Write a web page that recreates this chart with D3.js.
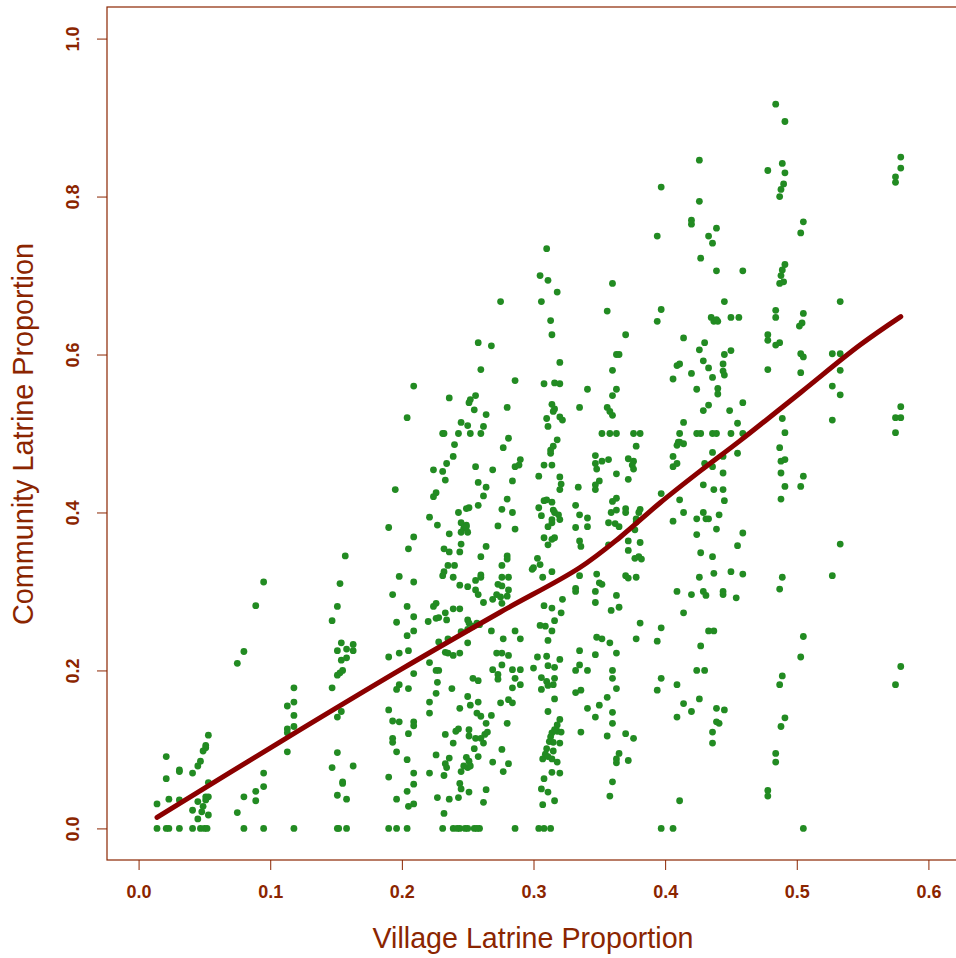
<!DOCTYPE html>
<html>
<head>
<meta charset="utf-8">
<script src="https://cdn.jsdelivr.net/npm/d3@7"></script>
<style>
  body { margin: 0; background: #fff; }
  svg { display: block; }
  .tick text { font-family: 'Liberation Sans', Arial, sans-serif; font-weight: bold; font-size: 19px; fill: #8b2500; }
  .tick line { stroke: #8b2500; }
  .title { font-family: 'Liberation Sans', Arial, sans-serif; font-size: 30px; fill: #8b2500; }
</style>
</head>
<body>
<div id="chart"></div>
<script>
const W = 956, H = 958

// tick labels
const xTicks = [0, 0.1, 0.2, 0.3, 0.4, 0.5, 0.6]
const yTicks = [0, 0.2, 0.4, 0.6, 0.8, 1.0]

// lowess smooth
const smoothX = [0.014, 0.107, 0.199, 0.275, 0.335, 0.366, 0.396, 0.427, 0.457, 0.503, 0.548, 0.579]
const smoothY = [0.014, 0.109, 0.201, 0.274, 0.330, 0.369, 0.412, 0.453, 0.491, 0.552, 0.612, 0.648]

// households: [village latrine proportion, community latrine proportion]
const lowVillages = [
  [0.014,0],[0.021,0],[0.023,0],[0.031,0],[0.041,0],[0.047,0],[0.050,0],[0.052,0],[0.080,0],[0.095,0],[0.118,0],[0.151,0],[0.152,0],[0.158,0],
  [0.014,0.031],[0.021,0.091],[0.021,0.063],[0.023,0.037],[0.031,0.074],[0.031,0.072],[0.031,0.036],
  [0.041,0.070],[0.041,0.023],[0.045,0.034],[0.045,0.012],[0.045,0.079],[0.047,0.085],[0.049,0.098],[0.051,0.102],[0.051,0.105],[0.053,0.118],[0.053,0.058],
  [0.048,0.021],[0.049,0.028],[0.051,0.040],[0.053,0.040],[0.051,0.036],[0.053,0.017],
  [0.075,0.209],[0.080,0.224],[0.075,0.020],[0.080,0.040],[0.089,0.282],[0.095,0.312],[0.089,0.047],[0.089,0.035],[0.095,0.070],[0.095,0.053],
  [0.113,0.155],[0.118,0.178],[0.118,0.160],[0.118,0.143],[0.118,0.129],[0.113,0.126],[0.113,0.121],[0.113,0.097],
  [0.147,0.263],[0.151,0.281],[0.153,0.310],[0.154,0.235],[0.158,0.227],[0.163,0.233],[0.151,0.225],[0.158,0.216],[0.163,0.225],[0.154,0.213],[0.155,0.200],[0.153,0.197],[0.151,0.194],
  [0.147,0.178],[0.154,0.148],[0.151,0.141],[0.151,0.096],[0.147,0.077],[0.163,0.079],[0.155,0.059],[0.155,0.057],[0.151,0.042],[0.158,0.037],[0.157,0.345]
]

const midVillages = [
  [0.311,0.694],[0.318,0.679],[0.275,0.667],[0.306,0.667],[0.313,0.643],[0.314,0.625],[0.258,0.615],[0.268,0.611],[0.320,0.590],[0.260,0.581],[0.286,0.567],[0.308,0.563],[0.316,0.564],[0.320,0.563],[0.209,0.560],[0.236,0.545],[0.256,0.548],[0.252,0.543],[0.251,0.539],[0.280,0.533],[0.255,0.530],[0.314,0.537],[0.316,0.531],[0.315,0.528],[0.310,0.519],[0.311,0.509],[0.320,0.521],[0.322,0.517],[0.335,0.533],[0.204,0.520],[0.264,0.524],[0.245,0.514],[0.250,0.510],[0.262,0.509],
  [0.231,0.500],[0.232,0.500],[0.243,0.500],[0.252,0.500],[0.260,0.500],
  [0.240,0.486],[0.239,0.471],[0.281,0.494],[0.277,0.482],[0.318,0.492],[0.315,0.484],[0.313,0.479],[0.313,0.475],
  [0.234,0.462],[0.224,0.454],[0.231,0.452],[0.233,0.441],[0.256,0.458],[0.269,0.454],[0.290,0.467],[0.286,0.458],[0.289,0.460],[0.308,0.460],[0.314,0.460],[0.304,0.446],[0.320,0.445],[0.321,0.436],[0.320,0.429],[0.334,0.432],[0.258,0.438],[0.284,0.440],[0.264,0.432],[0.195,0.429],[0.226,0.425],[0.224,0.420],[0.262,0.421],[0.280,0.417],[0.258,0.409],
  [0.308,0.415],[0.310,0.416],[0.304,0.406],[0.314,0.413],[0.315,0.403],[0.306,0.396],[0.319,0.397],[0.320,0.391],[0.314,0.391],[0.316,0.400],[0.314,0.387],[0.311,0.382],
  [0.332,0.409],[0.332,0.381],[0.335,0.364],[0.276,0.404],[0.284,0.400],[0.243,0.400],[0.249,0.405],[0.251,0.406],[0.221,0.394],[0.227,0.384],
  [0.245,0.387],[0.249,0.384],[0.247,0.380],[0.245,0.375],[0.250,0.375],[0.249,0.382],[0.273,0.383],[0.286,0.379],[0.190,0.381],[0.209,0.369],[0.236,0.373],[0.205,0.354],
  [0.308,0.368],[0.311,0.359],[0.314,0.366],[0.316,0.368],[0.245,0.360],[0.244,0.350],[0.232,0.354],[0.236,0.350],[0.264,0.357],[0.260,0.344],[0.280,0.345],[0.280,0.341],
  [0.303,0.342],[0.305,0.334],[0.300,0.330],[0.299,0.328],[0.314,0.325],[0.235,0.333],[0.240,0.333],[0.232,0.325],[0.231,0.320],[0.276,0.333],[0.198,0.319],[0.239,0.318],[0.260,0.318],[0.276,0.318],[0.281,0.318],[0.307,0.318],
  [0.310,0.734],[0.305,0.700],
  [0.209,0.312],[0.193,0.296],[0.204,0.281],[0.196,0.261],[0.209,0.268],[0.204,0.244],[0.209,0.250],[0.190,0.217],[0.198,0.222],[0.205,0.225],[0.209,0.196],[0.196,0.176],[0.198,0.182],[0.205,0.177],[0.190,0.150],[0.193,0.136],[0.198,0.135],[0.209,0.135],[0.209,0.130],[0.205,0.120],[0.193,0.114],[0.193,0.109],[0.196,0.097],[0.204,0.087],[0.209,0.070],[0.190,0.065],[0.209,0.056],[0.204,0.047],[0.196,0.037],[0.205,0.028],[0.209,0.031],
  [0.190,0],[0.196,0],[0.204,0],[0.231,0],[0.239,0],[0.244,0],[0.248,0],[0.255,0],[0.259,0],[0.286,0],[0.304,0],[0.308,0],[0.313,0],[0.242,0],[0.250,0],[0.257,0],
  [0.224,0.281],[0.226,0.285],[0.220,0.262],[0.226,0.266],[0.228,0.267],[0.233,0.273],[0.239,0.278],[0.244,0.278],[0.234,0.264],[0.228,0.236],[0.235,0.240],[0.233,0.223],[0.235,0.222],[0.239,0.219],[0.244,0.222],[0.221,0.210],[0.226,0.200],[0.228,0.200],[0.227,0.185],[0.226,0.171],[0.221,0.160],[0.221,0.146],[0.238,0.177],
  [0.245,0.249],[0.250,0.252],[0.251,0.260],[0.250,0.264],[0.256,0.314],[0.260,0.321],[0.256,0.302],[0.258,0.296],[0.262,0.286],[0.250,0.306],[0.244,0.308],[0.250,0.235],[0.257,0.260],[0.259,0.258],[0.254,0.256],
  [0.269,0.290],[0.272,0.296],[0.276,0.285],[0.275,0.293],[0.280,0.294],[0.281,0.302],[0.276,0.307],[0.273,0.309],
  [0.268,0.250],[0.277,0.240],[0.286,0.250],[0.290,0.240],[0.272,0.222],[0.276,0.222],[0.281,0.219],[0.276,0.207],[0.269,0.201],[0.273,0.195],[0.273,0.189],[0.284,0.201],[0.290,0.201],[0.286,0.190],[0.290,0.182],[0.284,0.178],[0.254,0.190],[0.258,0.187],
  [0.250,0.167],[0.252,0.156],[0.244,0.152],[0.258,0.160],[0.260,0.142],[0.257,0.146],[0.264,0.133],[0.268,0.143],[0.275,0.159],[0.281,0.163],[0.284,0.159],[0.280,0.133],
  [0.233,0.119],[0.239,0.108],[0.241,0.123],[0.243,0.126],[0.251,0.125],[0.251,0.117],[0.256,0.114],[0.262,0.108],[0.263,0.119],[0.265,0.122],[0.260,0.114],[0.255,0.101],[0.258,0.091],
  [0.226,0.093],[0.233,0.082],[0.236,0.089],[0.234,0.077],[0.232,0.067],[0.221,0.070],
  [0.249,0.090],[0.251,0.085],[0.247,0.079],[0.250,0.077],[0.245,0.072],[0.252,0.079],
  [0.276,0.100],[0.281,0.082],[0.269,0.084],[0.277,0.072],
  [0.244,0.057],[0.245,0.050],[0.251,0.046],[0.264,0.049],[0.262,0.033],
  [0.227,0.039],[0.236,0.037],[0.243,0.039],[0.232,0.019],
  [0.308,0.282],[0.314,0.279],[0.322,0.290],[0.321,0.273],[0.316,0.263],[0.305,0.257],[0.309,0.256],[0.314,0.250],[0.311,0.238],
  [0.303,0.217],[0.310,0.218],[0.320,0.214],[0.311,0.206],[0.316,0.204],[0.300,0.203],[0.306,0.191],[0.310,0.186],[0.316,0.190],[0.306,0.176],[0.315,0.182],[0.311,0.181],[0.316,0.164],
  [0.311,0.148],[0.320,0.138],[0.318,0.131],[0.316,0.125],[0.314,0.121],[0.313,0.116],[0.318,0.123],[0.321,0.122],[0.312,0.110],[0.315,0.109],[0.320,0.108],
  [0.310,0.101],[0.315,0.098],[0.309,0.094],[0.307,0.088],[0.311,0.091],[0.314,0.088],[0.318,0.084],[0.320,0.070],[0.314,0.071],[0.308,0.063],
  [0.306,0.050],[0.311,0.046],[0.316,0.035],[0.307,0.030]
]

const highVillages = [
  [0.394,0.642],[0.370,0.625],[0.414,0.621],[0.430,0.615],[0.426,0.606],[0.450,0.605],[0.445,0.600],[0.363,0.600],[0.365,0.600],
  [0.429,0.592],[0.433,0.583],[0.444,0.588],[0.444,0.579],[0.445,0.574],[0.436,0.571],[0.409,0.586],[0.411,0.588],[0.420,0.576],[0.360,0.580],[0.406,0.569],
  [0.341,0.556],[0.363,0.556],[0.360,0.548],[0.424,0.556],[0.440,0.557],[0.440,0.550],[0.459,0.539],[0.449,0.529],[0.433,0.536],[0.429,0.529],
  [0.356,0.533],[0.358,0.528],[0.360,0.523],[0.414,0.514],[0.455,0.513],
  [0.352,0.500],[0.358,0.500],[0.363,0.500],[0.376,0.500],[0.381,0.500],[0.411,0.500],[0.424,0.500],[0.427,0.500],[0.436,0.500],[0.439,0.500],[0.450,0.500],[0.459,0.500],
  [0.378,0.484],[0.409,0.485],[0.411,0.489],[0.414,0.487],[0.410,0.489],[0.436,0.476],[0.455,0.475],
  [0.347,0.472],[0.352,0.465],[0.357,0.467],[0.347,0.462],[0.348,0.455],[0.372,0.468],[0.376,0.465],[0.375,0.460],[0.376,0.455],
  [0.406,0.471],[0.406,0.458],[0.409,0.462],[0.430,0.462],[0.436,0.458],[0.444,0.471],[0.444,0.450],
  [0.363,0.449],[0.372,0.442],[0.350,0.440],[0.347,0.435],[0.347,0.429],
  [0.429,0.435],[0.437,0.429],[0.444,0.429],[0.445,0.415],[0.397,0.424],[0.411,0.416],
  [0.363,0.418],[0.360,0.414],[0.363,0.403],[0.359,0.400],[0.370,0.405],[0.370,0.400],[0.381,0.404],[0.380,0.400],[0.378,0.392],[0.378,0.388],
  [0.335,0.397],[0.341,0.393],[0.357,0.387],[0.362,0.386],[0.365,0.382],[0.341,0.382],
  [0.406,0.389],[0.414,0.400],[0.424,0.392],[0.429,0.400],[0.431,0.392],[0.433,0.392],[0.441,0.397],[0.439,0.379],[0.377,0.378],
  [0.336,0.357],[0.357,0.359],[0.372,0.364],[0.372,0.352],[0.381,0.362],[0.377,0.342],[0.380,0.344],[0.382,0.341],
  [0.424,0.372],[0.427,0.349],[0.436,0.344],[0.459,0.374],[0.455,0.358],
  [0.335,0.320],[0.348,0.322],[0.350,0.311],[0.352,0.309],[0.370,0.320],[0.372,0.317],[0.378,0.318],[0.426,0.318],[0.437,0.323],[0.450,0.325],[0.459,0.322],
  [0.332,0.304],[0.332,0.300],[0.347,0.300],[0.363,0.295],[0.409,0.300],[0.420,0.296],[0.429,0.300],[0.431,0.295],[0.444,0.300],[0.444,0.296],[0.454,0.292],
  [0.347,0.286],[0.359,0.276],[0.365,0.280],[0.414,0.273],[0.381,0.260],[0.397,0.254],[0.433,0.250],[0.437,0.250],
  [0.348,0.242],[0.352,0.240],[0.358,0.235],[0.378,0.240],[0.394,0.237],[0.427,0.231],[0.335,0.225],[0.347,0.220],[0.363,0.222],
  [0.335,0.207],[0.332,0.200],[0.341,0.200],[0.360,0.200],[0.360,0.190],[0.424,0.200],[0.430,0.200],[0.397,0.190],[0.409,0.182],[0.394,0.175],[0.332,0.172],[0.336,0.175],[0.363,0.177],[0.356,0.166],[0.426,0.164],[0.414,0.158],[0.420,0.148],[0.439,0.152],[0.445,0.150],[0.341,0.152],[0.350,0.156],
  [0.347,0.141],[0.360,0.147],[0.360,0.133],[0.409,0.141],[0.439,0.135],[0.441,0.133],[0.336,0.122],[0.356,0.117],[0.370,0.120],[0.376,0.114],[0.436,0.122],[0.436,0.108],
  [0.365,0.095],[0.363,0.088],[0.363,0.083],[0.372,0.086],[0.360,0.059],[0.358,0.041],[0.411,0.035],[0.397,0],[0.406,0],
  [0.426,0.846],[0.397,0.812],[0.426,0.794],[0.420,0.770],[0.420,0.765],[0.439,0.760],[0.394,0.750],[0.433,0.750],[0.436,0.741],[0.427,0.722],[0.439,0.706],[0.459,0.706],[0.360,0.690],[0.356,0.655],[0.397,0.657],[0.445,0.667],[0.435,0.647],[0.437,0.642],[0.440,0.642],[0.439,0.644],[0.450,0.647],[0.456,0.647]
]

const topVillages = [
  [0.484,0.917],[0.491,0.895],[0.489,0.842],[0.478,0.833],[0.491,0.830],[0.490,0.816],[0.488,0.809],[0.487,0.800],
  [0.579,0.850],[0.579,0.836],[0.575,0.825],[0.575,0.818],[0.505,0.768],[0.503,0.754],
  [0.491,0.714],[0.489,0.707],[0.488,0.700],[0.487,0.690],[0.490,0.692],[0.533,0.667],[0.484,0.656],[0.484,0.647],[0.505,0.652],[0.504,0.640],[0.502,0.636],
  [0.478,0.625],[0.478,0.618],[0.484,0.612],[0.487,0.615],[0.503,0.601],[0.505,0.597],[0.527,0.601],[0.533,0.601],[0.533,0.580],[0.478,0.581],[0.503,0.577],
  [0.527,0.560],[0.533,0.549],[0.527,0.517],[0.579,0.534],[0.575,0.520],[0.579,0.520],[0.575,0.501],[0.489,0.519],[0.491,0.501],[0.487,0.482],[0.488,0.465],[0.491,0.467],[0.488,0.450],[0.491,0.433],[0.488,0.417],[0.505,0.446],[0.503,0.433],[0.533,0.360],[0.527,0.320],[0.489,0.318],[0.487,0.303],[0.505,0.243],[0.503,0.217],[0.579,0.205],[0.575,0.182],[0.489,0.193],[0.487,0.182],[0.491,0.140],[0.488,0.129],[0.484,0.095],[0.484,0.084],[0.478,0.048],[0.478,0.041],[0.505,0]
]

const households = lowVillages.concat(midVillages, highVillages, topVillages)

const ink = '#8b2500'

const x = d3.scaleLinear().domain([-0.024, 0.624]).range([107, 960])
const y = d3.scaleLinear().domain([-0.04, 1.04]).range([860, 7])

const svg = d3.select('#chart').append('svg')
  .attr('width', W)
  .attr('height', H)

// plot box (right edge falls just off the canvas)
svg.append('rect')
  .attr('x', x.range()[0]).attr('y', y.range()[1])
  .attr('width', x.range()[1] - x.range()[0])
  .attr('height', y.range()[0] - y.range()[1])
  .attr('fill', 'none')
  .attr('stroke', ink)
  .attr('stroke-width', 1.2)

const xAxis = svg.append('g')
  .attr('transform', `translate(0,${y.range()[0]})`)
  .call(d3.axisBottom(x).tickValues(xTicks).tickFormat(d3.format('.1f')).tickSize(10).tickPadding(15))
xAxis.select('.domain').remove()
xAxis.selectAll('.tick text')
  .attr('textLength', 25)
  .attr('lengthAdjust', 'spacingAndGlyphs')

const yAxis = svg.append('g')
  .attr('transform', `translate(${x.range()[0]},0)`)
  .call(d3.axisLeft(y).tickValues(yTicks).tickFormat(d3.format('.1f')).tickSize(10))
yAxis.select('.domain').remove()
yAxis.selectAll('.tick text')
  .attr('x', null).attr('dy', null)
  .attr('transform', 'translate(-35,0) rotate(-90)')
  .attr('text-anchor', 'middle')
  .attr('dominant-baseline', 'central')
  .attr('textLength', 25)
  .attr('lengthAdjust', 'spacingAndGlyphs')

svg.append('text')
  .attr('class', 'title')
  .attr('x', 533).attr('y', 948)
  .attr('text-anchor', 'middle')
  .attr('textLength', 321)
  .attr('lengthAdjust', 'spacingAndGlyphs')
  .text('Village Latrine Proportion')

svg.append('text')
  .attr('class', 'title')
  .attr('transform', 'translate(33,434) rotate(-90)')
  .attr('text-anchor', 'middle')
  .attr('textLength', 382)
  .attr('lengthAdjust', 'spacingAndGlyphs')
  .text('Community Latrine Proportion')

svg.append('g')
  .selectAll('circle')
  .data(households)
  .join('circle')
  .attr('cx', d => x(d[0]))
  .attr('cy', d => y(d[1]))
  .attr('r', 3.4)
  .attr('fill', '#228b22')

const smooth = d3.line()
  .x(d => x(d[0]))
  .y(d => y(d[1]))
  .curve(d3.curveCatmullRom.alpha(0.5))

svg.append('path')
  .datum(smoothX.map((v, i) => [v, smoothY[i]]))
  .attr('d', smooth)
  .attr('fill', 'none')
  .attr('stroke', '#8b0000')
  .attr('stroke-width', 5)
  .attr('stroke-linecap', 'round')
</script>
</body>
</html>
